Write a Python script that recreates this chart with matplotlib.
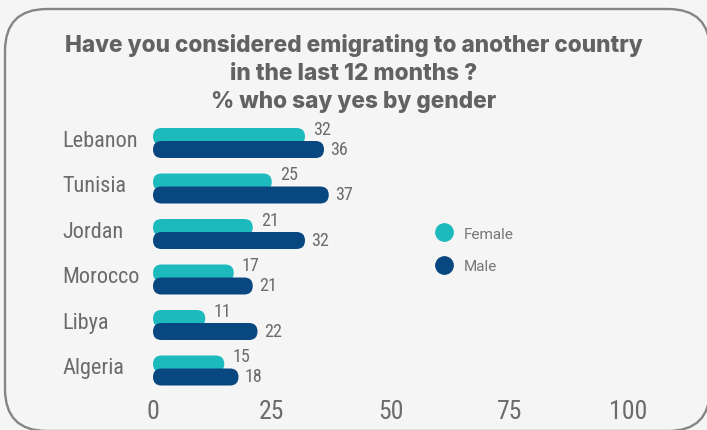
import matplotlib
matplotlib.use("Agg")
import matplotlib.pyplot as plt
from matplotlib import font_manager
from matplotlib.patches import FancyBboxPatch
from matplotlib.lines import Line2D
from matplotlib.transforms import blended_transform_factory

countries = ["Lebanon", "Tunisia", "Jordan", "Morocco", "Libya", "Algeria"]
female = [32, 25, 21, 17, 11, 15]
male = [36, 37, 32, 21, 22, 18]
xticks = [0, 25, 50, 75, 100]

title = ("Have you considered emigrating to another country\n"
         "in the last 12 months ?\n"
         "% who say yes by gender")

FEMALE_C = "#1dbabd"
MALE_C = "#094780"
TEXT_C = "#6b6b6b"
BG = "#f5f5f5"


def pick_font(names):
    for n in names:
        try:
            font_manager.findfont(font_manager.FontProperties(family=n),
                                  fallback_to_default=False)
            return n
        except Exception:
            pass
    return "DejaVu Sans"


narrow = pick_font(["Liberation Sans Narrow", "DejaVu Sans Condensed",
                    "Roboto Condensed", "Open Sans Condensed"])

W, H = 707, 431
fig = plt.figure(figsize=(W / 100, H / 100), dpi=100, facecolor=BG)

# full-figure axes in pixel units for the rounded frame
bg = fig.add_axes([0, 0, 1, 1])
bg.set_xlim(0, W)
bg.set_ylim(H, 0)
bg.axis("off")
bg.add_patch(FancyBboxPatch((5, 10), 705, 422,
                            boxstyle="round,pad=0,rounding_size=42",
                            fc=BG, ec="#858585", lw=1.7))

bg.text(354, 73.5, title, ha="center", va="center", fontsize=16.3,
        fontweight="heavy", color="#626262", family="Inter",
        linespacing=1.36)

# bar axes: x 0..100 spans px 153..628, rows are 45.5 px apart
top_px, row_px = 121.25, 45.5
ax = fig.add_axes([153 / W, 1 - (top_px + 6 * row_px) / H,
                   475 / W, 6 * row_px / H])
ax.patch.set_alpha(0)
ax.set_xlim(0, 100)
ax.set_ylim(5.5, -0.5)
for s in ax.spines.values():
    s.set_visible(False)
ax.set_yticks([])
ax.set_xticks(xticks)
ax.set_xticklabels([str(t) for t in xticks], family=narrow, fontsize=18.5,
                   color=TEXT_C)
ax.tick_params(axis="x", length=0, pad=4)

bar_h = 17 / row_px
off = 6.5 / row_px
rx = 8.5 * 100 / 475
aspect = (1 / row_px) / (100 / 475)

for i, (f, m) in enumerate(zip(female, male)):
    for val, dy, col in ((f, -off, FEMALE_C), (m, off, MALE_C)):
        ax.add_patch(FancyBboxPatch((0, i + dy - bar_h / 2), val, bar_h,
                                    boxstyle=f"round,pad=0,rounding_size={rx}",
                                    mutation_aspect=aspect, fc=col, ec="none"))
    ax.text(f + 1.7, i - 0.31, str(f), ha="left", va="center",
            family=narrow, fontsize=13, color=TEXT_C)
    ax.text(m + 1.3, i + 0.13, str(m), ha="left", va="center",
            family=narrow, fontsize=13, color=TEXT_C)

lab_tr = blended_transform_factory(bg.transData, ax.transData)
for i, c in enumerate(countries):
    ax.text(62, i - 0.06, c, transform=lab_tr, ha="left", va="center",
            family=narrow, fontsize=16, color=TEXT_C)

handles = [Line2D([], [], ls="", marker="o", ms=12.5, color=FEMALE_C),
           Line2D([], [], ls="", marker="o", ms=12.5, color=MALE_C)]
fig.legend(handles, ["Female", "Male"], loc="upper left",
           bbox_to_anchor=(429, 220), bbox_transform=bg.transData,
           frameon=False, prop={"family": "Roboto", "size": 11},
           labelcolor="#777777", handlelength=1.0, handletextpad=0.75,
           labelspacing=1.2, borderpad=0)

fig.savefig("out.png", dpi=100, facecolor=BG)
